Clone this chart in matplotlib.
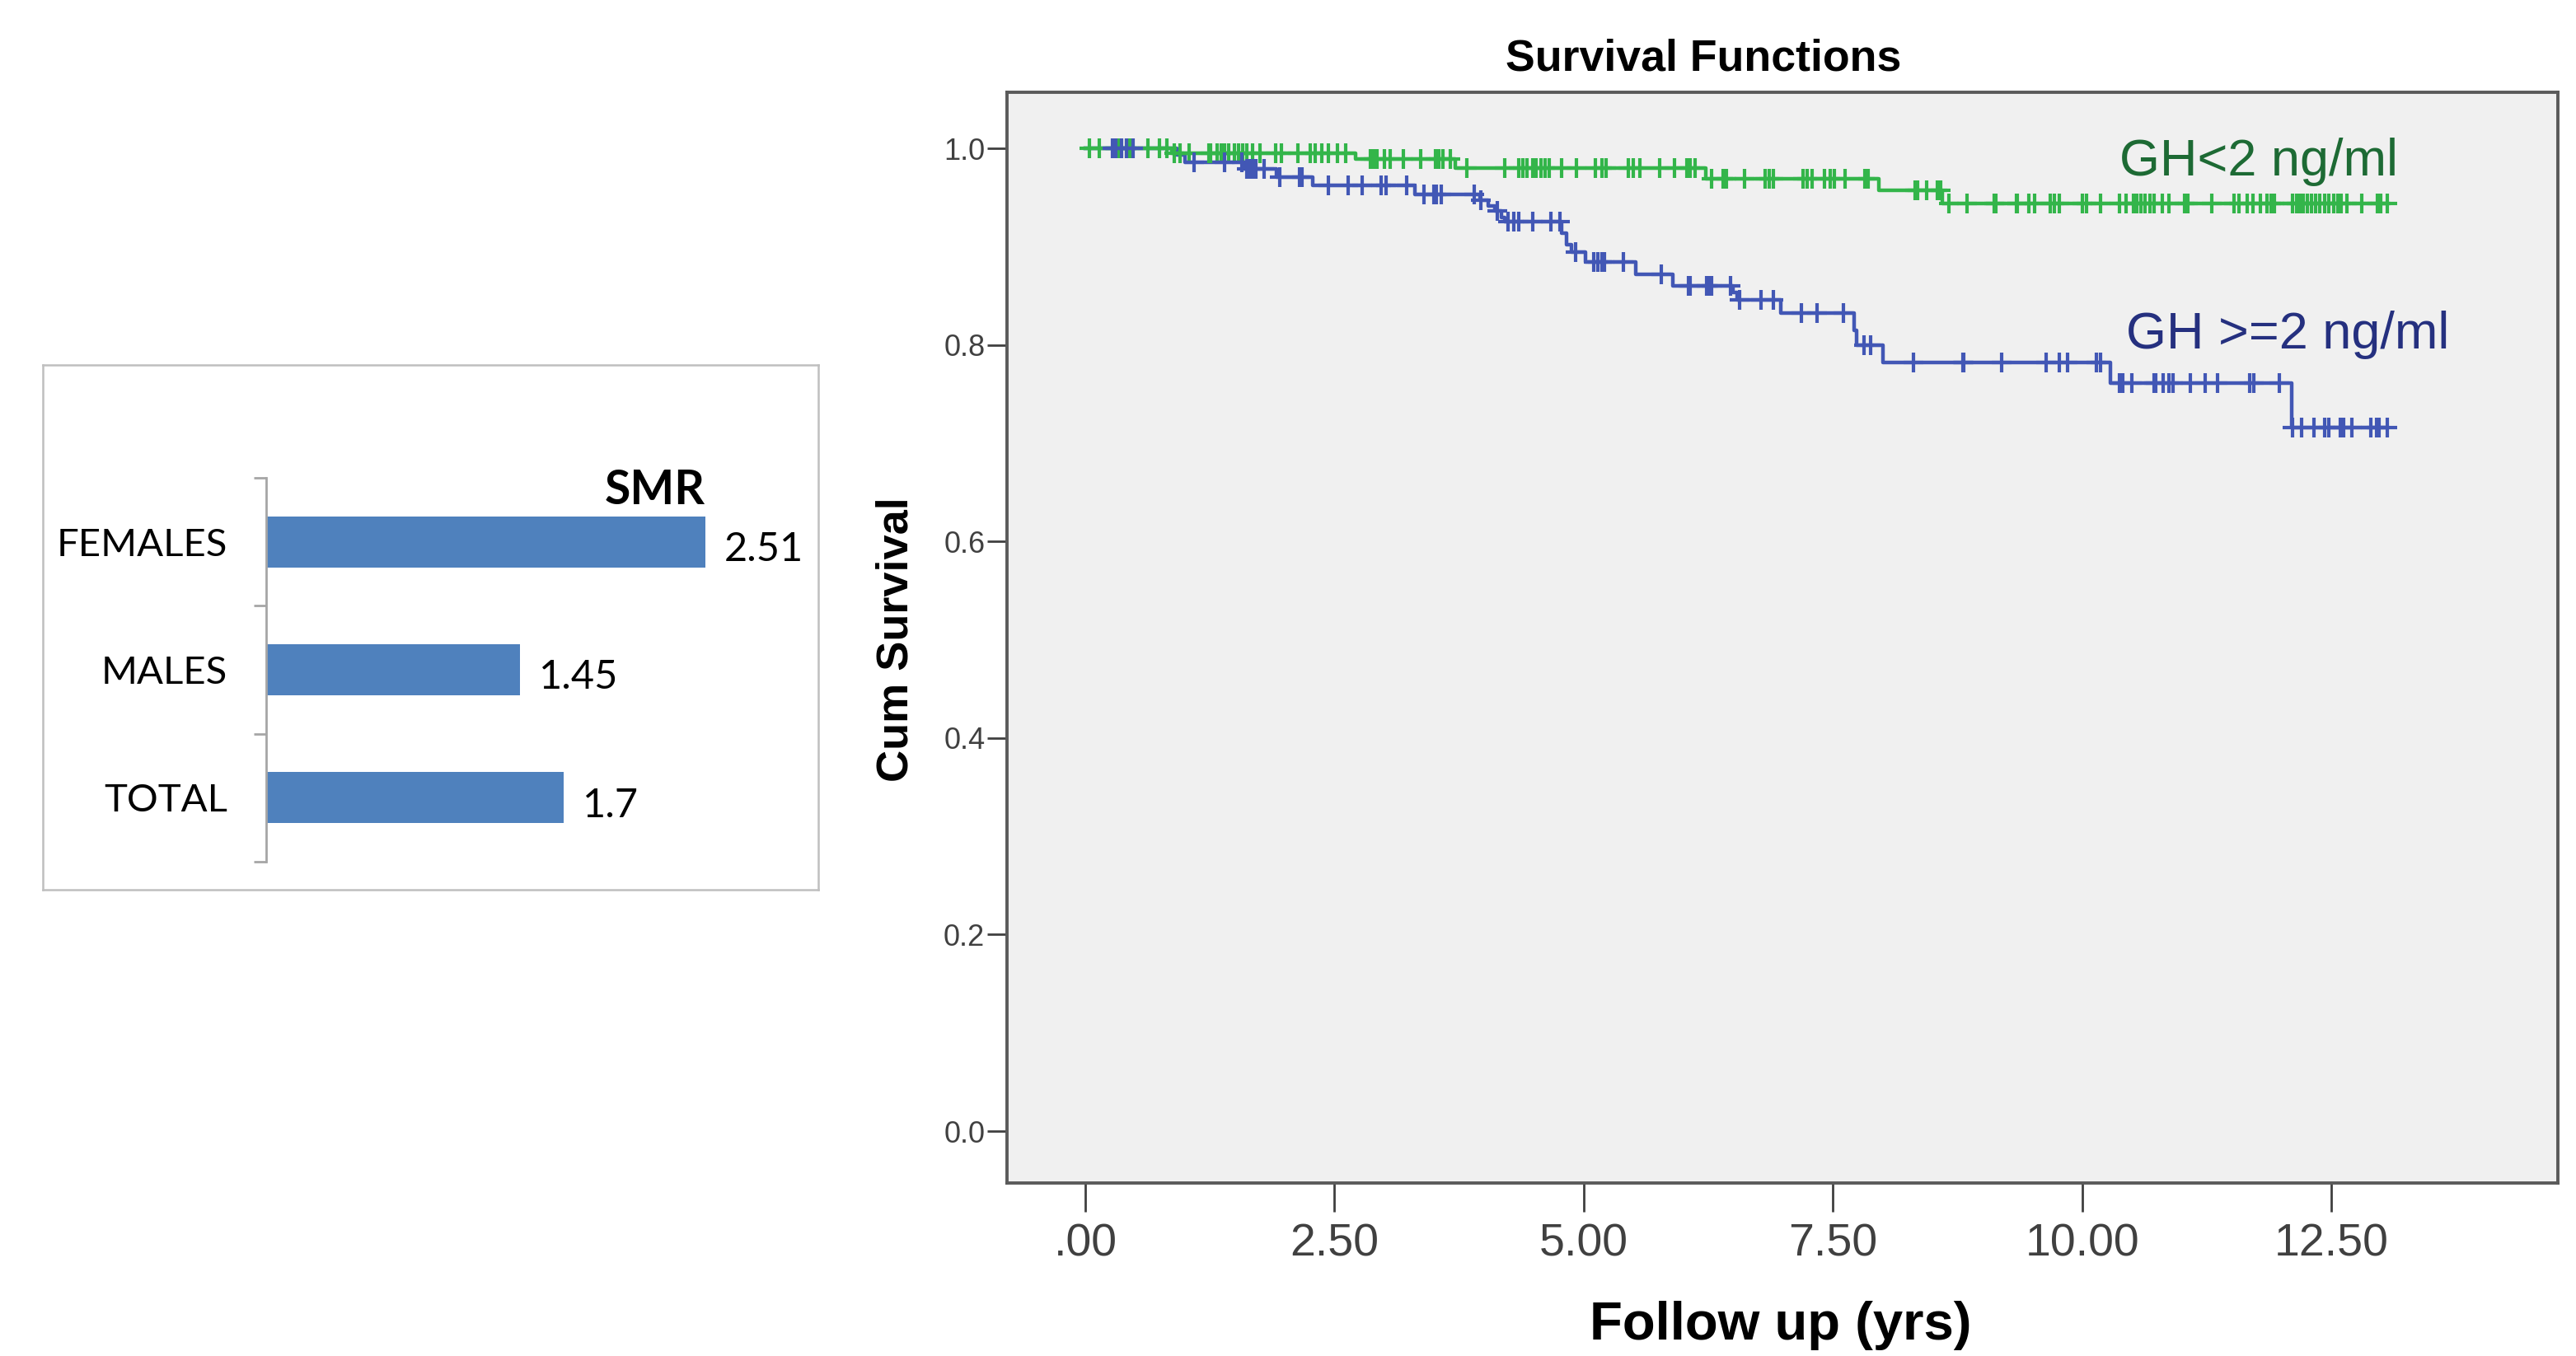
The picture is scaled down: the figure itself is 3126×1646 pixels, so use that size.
import matplotlib
matplotlib.use('Agg')
import matplotlib.pyplot as plt
from matplotlib import font_manager
import numpy as np

# ---- SMR bar panel ----
smr_groups = ['TOTAL', 'MALES', 'FEMALES']
smr_values = [1.7, 1.45, 2.51]

# ---- Kaplan-Meier curves (step start times, survival after step) ----
low_times = [0.0, 0.87, 2.71, 3.71, 6.22, 7.96, 8.60]
low_surv = [1.0, 0.995, 0.989, 0.980, 0.969, 0.957, 0.944]
low_end = 13.06
low_cens = [0.04, 0.14, 0.30, 0.34, 0.41, 0.45, 0.63, 0.74, 0.82,
            0.89, 0.95, 1.04, 1.24, 1.26, 1.32, 1.36, 1.40, 1.44, 1.50, 1.54,
            1.58, 1.62, 1.68, 1.75, 1.91, 1.97, 2.13, 2.26, 2.31, 2.37, 2.44,
            2.53, 2.61,
            2.86, 2.89, 2.93, 3.00, 3.06, 3.19, 3.36, 3.51, 3.55, 3.59, 3.66,
            3.83, 4.21, 4.35, 4.39, 4.43, 4.49, 4.52, 4.57, 4.61, 4.65, 4.78,
            4.93, 5.12, 5.18, 5.22, 5.45, 5.50, 5.56, 5.76, 5.91, 6.03, 6.07,
            6.12,
            6.28, 6.40, 6.43, 6.61, 6.82, 6.86, 6.90, 7.20, 7.24, 7.29, 7.41,
            7.47, 7.51, 7.62, 7.82, 7.85,
            8.32, 8.35, 8.44, 8.55, 8.58,
            8.66, 8.84, 9.12, 9.13, 9.34, 9.35, 9.46, 9.52, 9.68, 9.72, 9.77,
            10.00, 10.04, 10.18, 10.37, 10.44, 10.51, 10.55, 10.59, 10.63,
            10.68, 10.72, 10.80, 10.87, 11.03, 11.06, 11.30, 11.52, 11.57,
            11.65, 11.71, 11.79, 11.85, 11.89, 11.93, 12.11, 12.15, 12.18,
            12.22, 12.26, 12.30, 12.34, 12.38, 12.43, 12.47, 12.52, 12.56,
            12.60, 12.65, 12.80, 12.96, 12.99, 13.06]

high_times = [0.0, 0.92, 1.00, 1.60, 1.92, 2.28, 3.31, 3.96, 4.04, 4.11,
              4.17, 4.21, 4.78, 4.83, 4.88, 5.02, 5.52, 5.89, 6.50, 6.54,
              6.98, 7.71, 7.74, 8.00, 10.28, 12.10]
high_surv = [1.0, 0.993, 0.986, 0.979, 0.971, 0.962, 0.953, 0.947, 0.941,
             0.936, 0.930, 0.925, 0.914, 0.902, 0.894, 0.884, 0.872, 0.860,
             0.853, 0.846, 0.832, 0.815, 0.800, 0.782, 0.761, 0.716]
high_end = 13.06
high_cens = [0.27, 0.31, 0.36, 0.41, 0.48, 1.09, 1.40, 1.57,
             1.62, 1.65, 1.68, 1.71, 1.79, 1.95, 2.15, 2.17,
             2.44, 2.64, 2.78, 2.97, 3.02, 3.22, 3.40, 3.50, 3.52, 3.57, 3.90,
             3.97, 4.13, 4.24, 4.30, 4.35, 4.49, 4.67, 4.76, 4.92,
             5.10, 5.14, 5.18, 5.21, 5.40, 5.78, 6.05, 6.07, 6.23, 6.25, 6.28,
             6.47, 6.56, 6.78, 6.90, 7.18, 7.34, 7.60, 7.81, 7.88,
             8.31, 8.80, 8.81, 9.19, 9.64, 9.77, 9.85, 10.14, 10.18,
             10.37, 10.41, 10.50, 10.72, 10.74, 10.81, 10.87, 10.91, 11.08,
             11.23, 11.36, 11.68, 11.72, 11.98,
             12.11, 12.20, 12.32, 12.43, 12.47, 12.59, 12.62, 12.70, 12.89,
             12.95, 12.98, 13.06]

x_ticks = [0, 2.5, 5, 7.5, 10, 12.5]
x_ticklabels = ['.00', '2.50', '5.00', '7.50', '10.00', '12.50']
y_ticks = [0.0, 0.2, 0.4, 0.6, 0.8, 1.0]
y_ticklabels = ['0.0', '0.2', '0.4', '0.6', '0.8', '1.0']

names = {f.name for f in font_manager.fontManager.ttflist}
sans = 'Liberation Sans' if 'Liberation Sans' in names else 'DejaVu Sans'
narrow = 'Liberation Sans Narrow' if 'Liberation Sans Narrow' in names else sans
office = 'Lato' if 'Lato' in names else sans

W, H = 3126, 1646
fig = plt.figure(figsize=(W / 200, H / 200), dpi=200)
fig.patch.set_facecolor('white')


def fx(px):
    return px / W


def fy(py):
    return 1 - py / H


# ---- left panel: box + bars ----
box = fig.add_axes([fx(52), fy(1080), fx(941), 637 / H])
box.set_xticks([])
box.set_yticks([])
for s in box.spines.values():
    s.set_color('#BFBFBF')
    s.set_linewidth(0.9)

bx = fig.add_axes([fx(323), fy(1046), fx(636.6), 466 / H])
bx.patch.set_alpha(0)
ypos = np.arange(len(smr_groups))
bx.barh(ypos, smr_values, height=0.4, color='#4F81BD')
bx.set_xlim(0, 3)
bx.set_ylim(-0.5, 2.5)
for side in ['top', 'right', 'bottom']:
    bx.spines[side].set_visible(False)
bx.spines['left'].set_color('#A6A6A6')
bx.spines['left'].set_linewidth(1.0)
bx.set_xticks([])
bx.set_yticks([-0.5, 0.5, 1.5, 2.5])
bx.set_yticklabels([])
bx.tick_params(axis='y', which='major', length=5.4, width=1.0, color='#A6A6A6')
bx.set_yticks(ypos, minor=True)
bx.set_yticklabels(smr_groups, minor=True, fontsize=17, family=office)
bx.tick_params(axis='y', which='minor', length=0, pad=17)
for i, v in enumerate(smr_values):
    bx.text(v + 0.11, i - 0.06, str(v), ha='left', va='center',
            fontsize=17.5, family=office)
bx.text(max(smr_values), 2.40, 'SMR', ha='right', va='center',
        fontsize=20.5, fontweight='bold', family=office)

# ---- right panel: survival functions ----
ax = fig.add_axes([fx(1222), fy(1436), fx(1882), 1324 / H])
ax.set_facecolor('#F0F0F0')
ax.set_xlim(-0.785, 14.77)
ax.set_ylim(-0.0528, 1.057)

green = '#33B54A'
blue = '#4257B5'


def km_line(times, surv, end):
    return list(times) + [end], list(surv) + [surv[-1]]


def cens_y(times, surv, cens):
    idx = np.searchsorted(times, cens, side='right') - 1
    return np.asarray(surv)[idx]


hx, hy = km_line(high_times, high_surv, high_end)
lx, ly = km_line(low_times, low_surv, low_end)
ax.step(hx, hy, where='post', color=blue, lw=1.6, zorder=3)
ax.step(lx, ly, where='post', color=green, lw=1.6, zorder=4)
ax.plot(low_cens, cens_y(low_times, low_surv, low_cens), ls='none',
        marker='+', ms=8.5, mew=1.5, color=green, zorder=5)
ax.plot(high_cens, cens_y(high_times, high_surv, high_cens), ls='none',
        marker='+', ms=8.5, mew=1.5, color=blue, zorder=6)

ax.text(10.37, 0.972, 'GH<2 ng/ml', color='#1D6A34', fontsize=22.7,
        family=sans, ha='left', va='baseline')
ax.text(10.44, 0.796, 'GH >=2 ng/ml', color='#25307F', fontsize=22.7,
        family=sans, ha='left', va='baseline')

ax.set_xticks(x_ticks)
ax.set_xticklabels(x_ticklabels, family=narrow, fontsize=20, color='#404040')
ax.set_yticks(y_ticks)
ax.set_yticklabels(y_ticklabels, family=sans, fontsize=13, color='#404040')
ax.tick_params(axis='x', length=12.6, width=1.0, color='#404040', pad=5)
ax.tick_params(axis='y', length=8.6, width=1.0, color='#404040', pad=1)
for s in ax.spines.values():
    s.set_color('#5A5A5A')
    s.set_linewidth(1.4)

fig.text(fx(2067), fy(72), 'Survival Functions', ha='center', va='center',
         fontsize=19.3, fontweight='bold', family=sans)
fig.text(fx(2161), fy(1609), 'Follow up (yrs)', ha='center', va='center',
         fontsize=23.5, fontweight='bold', family=sans)
fig.text(fx(1087), fy(776), 'Cum Survival', ha='center', va='center',
         rotation=90, fontsize=19.5, fontweight='bold', family=sans)

fig.savefig('out.png', dpi=200)
